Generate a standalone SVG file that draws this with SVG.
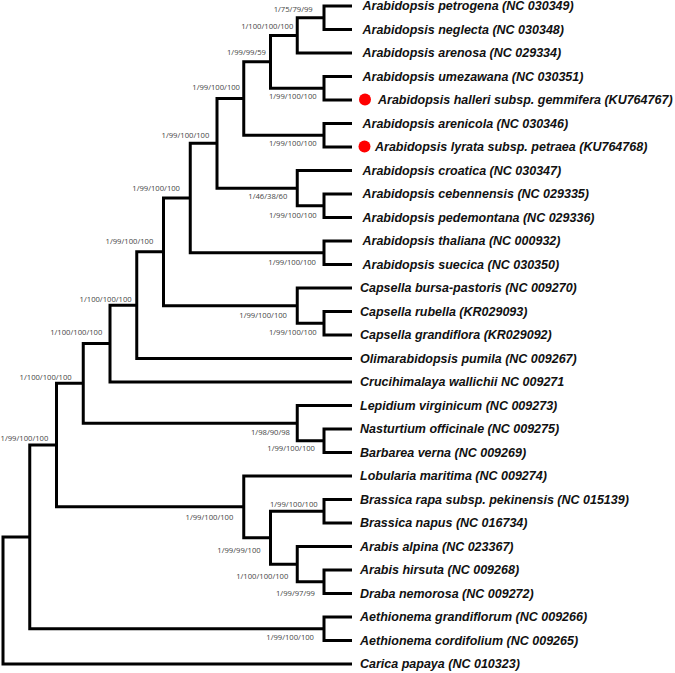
<svg xmlns="http://www.w3.org/2000/svg" width="675" height="673" viewBox="0 0 675 673">
<style>
.br{fill:none;stroke:#000;stroke-width:3;stroke-linejoin:miter;stroke-linecap:butt}
.tx{font-family:"Liberation Sans",Arial,sans-serif;font-size:12.5px;font-weight:bold;font-style:italic;fill:#111}
.sp{font-family:"Open Sans","Liberation Sans",sans-serif;font-size:7.65px;fill:#444;text-anchor:end}
.dot{fill:#f00}
</style>
<rect width="675" height="673" fill="#fff"/>
<g id="connectors">
<!-- A -->
<path class="br" d="M352 6H324V29.5H352"/>
<!-- B -->
<path class="br" d="M324 17.75H297.25V53H352"/>
<!-- C -->
<path class="br" d="M352 76.5H324V100H352"/>
<!-- D -->
<path class="br" d="M297.25 35.38H270.5V88.25H324"/>
<!-- E -->
<path class="br" d="M352 123.5H324V147H352"/>
<!-- F -->
<path class="br" d="M270.5 61.81H243.75V135.25H324"/>
<!-- G -->
<path class="br" d="M352 194H324V217.5H352"/>
<!-- H -->
<path class="br" d="M352 170.5H297.25V205.75H324"/>
<!-- I -->
<path class="br" d="M243.75 98.53H217V188.13H297.25"/>
<!-- J -->
<path class="br" d="M352 241H324V264.5H352"/>
<!-- K -->
<path class="br" d="M217 143.33H190.25V252.75H324"/>
<!-- L -->
<path class="br" d="M352 311.5H324V335H352"/>
<!-- M -->
<path class="br" d="M352 288H297.25V323.25H324"/>
<!-- N -->
<path class="br" d="M190.25 198.04H163.5V305.63H297.25"/>
<!-- O -->
<path class="br" d="M163.5 251.83H136.75V358.5H352"/>
<!-- P -->
<path class="br" d="M136.75 305.17H110V382H352"/>
<!-- Q -->
<path class="br" d="M352 429H324V452.5H352"/>
<!-- R -->
<path class="br" d="M352 405.5H297.25V440.75H324"/>
<!-- S -->
<path class="br" d="M110 343.58H83.25V423.13H297.25"/>
<!-- T -->
<path class="br" d="M352 499.5H324V523H352"/>
<!-- U -->
<path class="br" d="M352 570H324V593.5H352"/>
<!-- V -->
<path class="br" d="M352 546.5H297.25V581.75H324"/>
<!-- W -->
<path class="br" d="M324 511.25H270.5V564.13H297.25"/>
<!-- X -->
<path class="br" d="M352 476H243.75V537.69H270.5"/>
<!-- Y -->
<path class="br" d="M83.25 383.35H56.5V506.84H243.75"/>
<!-- Z -->
<path class="br" d="M352 617H324V640.5H352"/>
<!-- AA -->
<path class="br" d="M56.5 445.1H29.75V628.75H324"/>
<!-- root -->
<path class="br" d="M29.75 536.9H3V664H352"/>
</g>
<g id="support">
<text class="sp" x="312.7" y="12">1/75/79/99</text>
<text class="sp" x="293.3" y="28.8">1/100/100/100</text>
<text class="sp" x="266" y="55">1/99/99/59</text>
<text class="sp" x="316.7" y="98.8">1/99/100/100</text>
<text class="sp" x="240" y="90">1/99/100/100</text>
<text class="sp" x="316.7" y="146">1/99/100/100</text>
<text class="sp" x="209.3" y="137.8">1/99/100/100</text>
<text class="sp" x="180" y="190.8">1/99/100/100</text>
<text class="sp" x="287.3" y="198.5">1/46/38/60</text>
<text class="sp" x="316.7" y="218">1/99/100/100</text>
<text class="sp" x="316" y="264.8">1/99/100/100</text>
<text class="sp" x="153.3" y="243.5">1/99/100/100</text>
<text class="sp" x="287" y="317.8">1/99/100/100</text>
<text class="sp" x="316.7" y="334.8">1/99/100/100</text>
<text class="sp" x="131.7" y="301.8">1/100/100/100</text>
<text class="sp" x="102.3" y="334.5">1/100/100/100</text>
<text class="sp" x="71.7" y="379.5">1/100/100/100</text>
<text class="sp" x="290" y="434.8">1/98/90/98</text>
<text class="sp" x="315" y="450.8">1/99/100/100</text>
<text class="sp" x="48.3" y="441">1/99/100/100</text>
<text class="sp" x="317.7" y="506.8">1/99/100/100</text>
<text class="sp" x="233.3" y="520">1/99/100/100</text>
<text class="sp" x="260.7" y="552.8">1/99/99/100</text>
<text class="sp" x="288.3" y="579">1/100/100/100</text>
<text class="sp" x="315" y="595.5">1/99/97/99</text>
<text class="sp" x="314" y="639.5">1/99/100/100</text>
</g>
<g id="t01"><text class="tx" x="362.5" y="10.3">Arabidopsis petrogena (NC 030349)</text></g>
<g id="t02"><text class="tx" x="362.5" y="33.8">Arabidopsis neglecta (NC 030348)</text></g>
<g id="t03"><text class="tx" x="362.5" y="57.3">Arabidopsis arenosa (NC 029334)</text></g>
<g id="t04"><text class="tx" x="362.5" y="80.8">Arabidopsis umezawana (NC 030351)</text></g>
<g id="t05"><circle class="dot" cx="365" cy="99.5" r="6"/><text class="tx" x="378" y="104.3">Arabidopsis halleri subsp. gemmifera (KU764767)</text></g>
<g id="t06"><text class="tx" x="362.5" y="127.8">Arabidopsis arenicola (NC 030346)</text></g>
<g id="t07"><circle class="dot" cx="364.5" cy="146.5" r="6"/><text class="tx" x="375" y="151.3">Arabidopsis lyrata subsp. petraea (KU764768)</text></g>
<g id="t08"><text class="tx" x="362.5" y="174.8">Arabidopsis croatica (NC 030347)</text></g>
<g id="t09"><text class="tx" x="362.5" y="198.3">Arabidopsis cebennensis (NC 029335)</text></g>
<g id="t10"><text class="tx" x="362.5" y="221.8">Arabidopsis pedemontana (NC 029336)</text></g>
<g id="t11"><text class="tx" x="362.5" y="245.3">Arabidopsis thaliana (NC 000932)</text></g>
<g id="t12"><text class="tx" x="362.5" y="268.8">Arabidopsis suecica (NC 030350)</text></g>
<g id="t13"><text class="tx" x="360" y="292.3">Capsella bursa-pastoris (NC 009270)</text></g>
<g id="t14"><text class="tx" x="360" y="315.8">Capsella rubella (KR029093)</text></g>
<g id="t15"><text class="tx" x="360" y="339.3">Capsella grandiflora (KR029092)</text></g>
<g id="t16"><text class="tx" x="360" y="362.8">Olimarabidopsis pumila (NC 009267)</text></g>
<g id="t17"><text class="tx" x="360" y="386.3">Crucihimalaya wallichii NC 009271</text></g>
<g id="t18"><text class="tx" x="360" y="409.8">Lepidium virginicum (NC 009273)</text></g>
<g id="t19"><text class="tx" x="360" y="433.3">Nasturtium officinale (NC 009275)</text></g>
<g id="t20"><text class="tx" x="360" y="456.8">Barbarea verna (NC 009269)</text></g>
<g id="t21"><text class="tx" x="360" y="480.3">Lobularia maritima (NC 009274)</text></g>
<g id="t22"><text class="tx" x="360" y="503.8">Brassica rapa subsp. pekinensis (NC 015139)</text></g>
<g id="t23"><text class="tx" x="360" y="527.3">Brassica napus (NC 016734)</text></g>
<g id="t24"><text class="tx" x="360" y="550.8">Arabis alpina (NC 023367)</text></g>
<g id="t25"><text class="tx" x="360" y="574.3">Arabis hirsuta (NC 009268)</text></g>
<g id="t26"><text class="tx" x="360" y="597.8">Draba nemorosa (NC 009272)</text></g>
<g id="t27"><text class="tx" x="360" y="621.3">Aethionema grandiflorum (NC 009266)</text></g>
<g id="t28"><text class="tx" x="360" y="644.8">Aethionema cordifolium (NC 009265)</text></g>
<g id="t29"><text class="tx" x="360" y="668.3">Carica papaya (NC 010323)</text></g>
</svg>
